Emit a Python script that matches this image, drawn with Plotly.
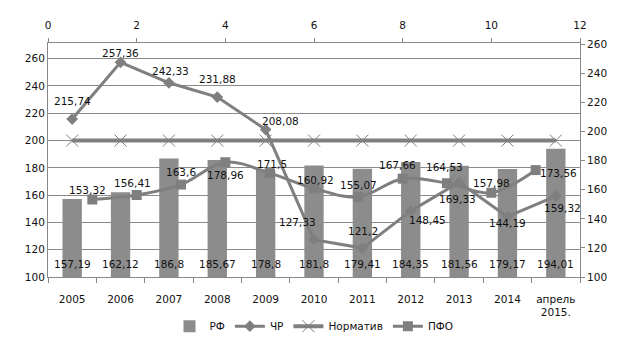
import plotly.graph_objects as go

categories = ["2005", "2006", "2007", "2008", "2009", "2010", "2011", "2012", "2013", "2014", "апрель<br>2015."]
rf = [157.19, 162.12, 186.8, 185.67, 178.8, 181.8, 179.41, 184.35, 181.56, 179.17, 194.01]
chr_vals = [215.74, 257.36, 242.33, 231.88, 208.08, 127.33, 121.2, 148.45, 169.33, 144.19, 159.32]
norm = [200] * 11
pfo_x = [1, 2, 3, 4, 5, 6, 7, 8, 9, 10, 11]
pfo = [153.32, 156.41, 163.6, 178.96, 171.5, 160.92, 155.07, 167.66, 164.53, 157.98, 173.56]

# label offsets (pixels) - styling only
chr_off = [(0, 18), (0, 9), (2, 12), (0, 18), (15, 9), (-17, 18), (1, 17), (17, -9), (-2, -17), (0, -6), (7, -12)]
pfo_off = [(-5, 10), (-4, 12), (0, 13), (0, -13), (2, 9), (1, 8), (0, 12), (-5, 14), (-3, 16), (0, 10), (23, -3)]

FONT = "DejaVu Sans"
GRAY = "#7f7f7f"
BAR = "#8c8c8c"


def fmt(v):
    return f"{v:g}".replace(".", ",")


fig = go.Figure()
fig.add_trace(go.Bar(x=categories, y=rf, name="РФ", marker=dict(color=BAR, line=dict(width=0)),
                     width=0.4, xaxis="x", yaxis="y"))
fig.add_trace(go.Scatter(x=categories, y=chr_vals, name="ЧР", mode="lines+markers",
                         line=dict(color=GRAY, width=3),
                         marker=dict(symbol="diamond", size=9, color=GRAY),
                         xaxis="x", yaxis="y"))
fig.add_trace(go.Scatter(x=categories, y=norm, name="Норматив", mode="lines+markers",
                         line=dict(color=GRAY, width=4),
                         marker=dict(symbol="x-thin-open", size=12, color=GRAY, line=dict(width=1, color=GRAY)),
                         xaxis="x", yaxis="y"))
fig.add_trace(go.Scatter(x=pfo_x, y=pfo, name="ПФО", mode="lines+markers",
                         line=dict(color=GRAY, width=3, shape="spline", smoothing=1),
                         marker=dict(symbol="square", size=10, color=GRAY),
                         xaxis="x2", yaxis="y2"))

lab_font = dict(family=FONT, size=10.5, color="#111")
annotations = []
for i, v in enumerate(rf):
    annotations.append(dict(x=i, y=100, xref="x", yref="y", text=fmt(v), showarrow=False,
                            yanchor="bottom", yshift=5, font=lab_font))
for i, (v, (dx, dy)) in enumerate(zip(chr_vals, chr_off)):
    annotations.append(dict(x=i, y=v, xref="x", yref="y", text=fmt(v), showarrow=False,
                            xshift=dx, yshift=dy, font=lab_font))
for xv, v, (dx, dy) in zip(pfo_x, pfo, pfo_off):
    annotations.append(dict(x=xv, y=v, xref="x2", yref="y2", text=fmt(v), showarrow=False,
                            xshift=dx, yshift=dy, font=lab_font))

axis_font = dict(family=FONT, size=10.5, color="#111")
fig.update_layout(
    width=628, height=348,
    margin=dict(l=40, r=56, t=35, b=79, autoexpand=False),
    paper_bgcolor="white", plot_bgcolor="white",
    font=dict(family=FONT, size=10.5, color="#111"),
    showlegend=True,
    legend=dict(orientation="h", x=0.5, xanchor="center", y=-0.21, yanchor="middle",
                font=dict(family=FONT, size=10.5, color="#111"),
                itemwidth=30, tracegroupgap=0),
    xaxis=dict(type="category", range=[-0.5, 10.5], showgrid=False, showline=True,
               linecolor="#888", linewidth=1, ticks="outside", tickson="boundaries",
               ticklen=5, tickcolor="#888", tickfont=axis_font, ticklabelstandoff=12,
               automargin=False),
    xaxis2=dict(overlaying="x", side="top", range=[0, 12], dtick=2, tick0=0, showgrid=False,
                showline=True, linecolor="#888", linewidth=1, ticks="outside", ticklen=4,
                tickcolor="#888", tickfont=axis_font, zeroline=False, anchor="y2",
                ticklabelstandoff=5, automargin=False),
    yaxis=dict(range=[100, 271.5], tickvals=[100, 120, 140, 160, 180, 200, 220, 240, 260],
               showgrid=True, gridcolor="#8a8a8a", gridwidth=1, showline=True,
               linecolor="#888", linewidth=1, ticks="", tickfont=axis_font, zeroline=False,
               automargin=False),
    yaxis2=dict(overlaying="y", side="right", range=[100, 261],
                tickvals=[100, 120, 140, 160, 180, 200, 220, 240, 260],
                showgrid=False, showline=True, linecolor="#888", linewidth=1,
                ticks="outside", ticklen=4, tickcolor="#888", tickfont=axis_font,
                zeroline=False, anchor="x2", automargin=False),
    annotations=annotations,
)

fig.write_html("out.html")
